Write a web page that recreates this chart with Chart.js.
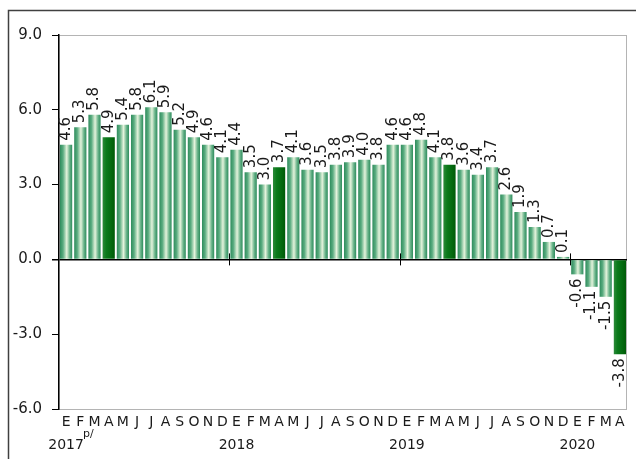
<!DOCTYPE html>
<html>
<head>
<meta charset="utf-8">
<script src="https://cdn.jsdelivr.net/npm/chart.js@4"></script>
<style>
  html, body { margin: 0; padding: 0; background: #fff; overflow: hidden; }
  #wrap { width: 636px; height: 459px; position: relative; }
</style>
</head>
<body>
<div id="wrap"><canvas id="chart"></canvas></div>
<script>
// meses (E = enero ... D = diciembre), ene-2017 a abr-2020
const months = ['E','F','M','A','M','J','J','A','S','O','N','D',
                'E','F','M','A','M','J','J','A','S','O','N','D',
                'E','F','M','A','M','J','J','A','S','O','N','D',
                'E','F','M','A'];
const years = ['2017', '2018', '2019', '2020'];
const values = [4.6, 5.3, 5.8, 4.9, 5.4, 5.8, 6.1, 5.9, 5.2, 4.9, 4.6, 4.1,
                4.4, 3.5, 3.0, 3.7, 4.1, 3.6, 3.5, 3.8, 3.9, 4.0, 3.8, 4.6,
                4.6, 4.8, 4.1, 3.8, 3.6, 3.4, 3.7, 2.6, 1.9, 1.3, 0.7, 0.1,
                -0.6, -1.1, -1.5, -3.8];
const yTicks = [-6, -3, 0, 3, 6, 9];

const FONT = "'DejaVu Sans', sans-serif";

// barras de abril en verde oscuro, las demas en degradado claro
function barFill(context) {
    const chart = context.chart;
    const xs = chart.scales.x;
    const isApril = context.dataIndex % 12 === 3;
    if (!xs || !(xs.width > 0)) return isApril ? '#0b7a1b' : '#5aac80';
    const cx = xs.getPixelForValue(context.dataIndex);
    const w = xs.width / months.length * 0.86;
    if (!Number.isFinite(cx) || !Number.isFinite(w)) return isApril ? '#0b7a1b' : '#5aac80';
    const g = chart.ctx.createLinearGradient(cx - w / 2, 0, cx + w / 2, 0);
    if (isApril) {
        g.addColorStop(0, '#2c8a3a');
        g.addColorStop(0.3, '#0b7a1b');
        g.addColorStop(0.7, '#046a10');
        g.addColorStop(1, '#005a08');
    } else {
        g.addColorStop(0, '#2e8c5c');
        g.addColorStop(0.25, '#5aac80');
        g.addColorStop(0.55, '#e4f3dc');
        g.addColorStop(0.8, '#66b288');
        g.addColorStop(1, '#2e8c5c');
    }
    return g;
}

// marco exterior y borde gris del area de grafico
const framePlugin = {
    id: 'frame',
    beforeDraw(chart) {
        const c = chart.ctx;
        const a = chart.chartArea;
        c.save();
        c.strokeStyle = '#404040';
        c.lineWidth = 1.5;
        c.strokeRect(8.5, 10.5, 800, 800);
        c.strokeStyle = '#b4b4b4';
        c.lineWidth = 1;
        c.strokeRect(a.left, a.top + 0.5, a.right - a.left - 0.5, a.bottom - a.top);
        c.restore();
    }
};

// etiquetas de valor rotadas y marcas de cambio de ano sobre la linea cero
const labelsPlugin = {
    id: 'valueLabels',
    afterDatasetsDraw(chart) {
        const c = chart.ctx;
        const xs = chart.scales.x;
        const ys = chart.scales.y;
        const y0 = ys.getPixelForValue(0);
        c.save();
        // marcas de ano
        c.strokeStyle = '#000';
        c.lineWidth = 1;
        for (let i = 12; i < months.length; i += 12) {
            const px = Math.round((xs.getPixelForValue(i - 1) + xs.getPixelForValue(i)) / 2) + 0.5;
            c.beginPath();
            c.moveTo(px, y0 - 6);
            c.lineTo(px, y0 + 6);
            c.stroke();
        }
        // valores
        c.font = '15px ' + FONT;
        c.fillStyle = '#1a1a1a';
        c.textBaseline = 'middle';
        chart.getDatasetMeta(0).data.forEach((bar, i) => {
            const v = values[i];
            c.save();
            if (v >= 0) {
                c.translate(bar.x, bar.y - 4);
                c.rotate(-Math.PI / 2);
                c.textAlign = 'left';
            } else {
                c.translate(bar.x, bar.y + 4);
                c.rotate(-Math.PI / 2);
                c.textAlign = 'right';
            }
            c.fillText(v.toFixed(1), 0, 0);
            c.restore();
        });
        // nota p/ junto a 2017
        c.font = '11px ' + FONT;
        c.textAlign = 'left';
        c.fillStyle = '#1a1a1a';
        c.fillText('p/', xs.getPixelForValue(0) + 17, 434);
        c.restore();
    }
};

new Chart(document.getElementById('chart'), {
    type: 'bar',
    data: {
        labels: months,
        datasets: [{
            data: values,
            backgroundColor: barFill,
            borderWidth: 0,
            barPercentage: 0.86,
            categoryPercentage: 1.0
        }]
    },
    options: {
        responsive: true,
        maintainAspectRatio: false,
        animation: false,
        layout: { padding: { top: 35, right: 9, left: 0, bottom: 0 } },
        plugins: {
            legend: { display: false },
            tooltip: { enabled: false }
        },
        scales: {
            x: {
                grid: { display: false, drawTicks: false },
                border: { display: false },
                ticks: {
                    autoSkip: false,
                    maxRotation: 0,
                    minRotation: 0,
                    padding: 2,
                    color: '#1a1a1a',
                    font: { family: FONT, size: 14, lineHeight: 1.65 },
                    callback: function(val, idx) {
                        if (idx % 12 === 0) return [months[idx], years[idx / 12]];
                        return months[idx];
                    }
                },
                afterFit: function(scale) { scale.height = 50; }
            },
            y: {
                min: yTicks[0],
                max: yTicks[yTicks.length - 1],
                afterBuildTicks: function(scale) {
                    scale.ticks = yTicks.map(v => ({ value: v }));
                },
                grid: {
                    drawOnChartArea: true,
                    color: ctx => (ctx.tick && ctx.tick.value === 0) ? '#000' : 'rgba(0,0,0,0)',
                    lineWidth: ctx => (ctx.tick && ctx.tick.value === 0) ? 1.5 : 1,
                    tickColor: '#000',
                    tickLength: 7
                },
                border: { display: true, color: '#000', width: 1.5 },
                ticks: {
                    padding: 10,
                    color: '#1a1a1a',
                    font: { family: FONT, size: 15 },
                    callback: v => Number(v).toFixed(1)
                },
                afterFit: function(scale) { scale.width = 59; }
            }
        }
    },
    plugins: [framePlugin, labelsPlugin]
});
</script>
</body>
</html>
